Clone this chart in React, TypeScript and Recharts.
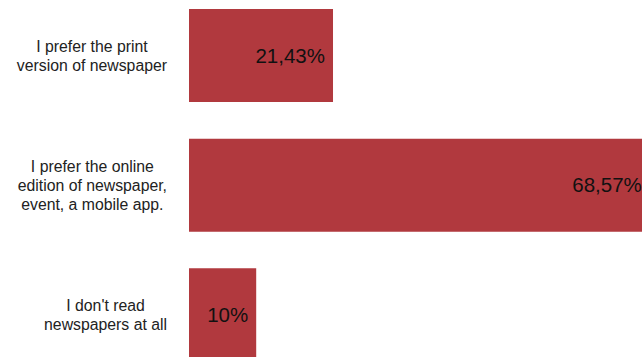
import { BarChart, Bar, XAxis, YAxis, LabelList } from "recharts";

const answers = [
  ["I prefer the print", "version of newspaper"],
  ["I prefer the online", "edition of newspaper,", "event, a mobile app."],
  ["I don't read", "newspapers at all"],
];
const shares = [21.43, 68.57, 10];

const data = answers.map((lines, i) => ({
  name: lines.join(" "),
  lines,
  value: shares[i],
}));

const FONT = "'Liberation Sans', Arial, Helvetica, sans-serif";

if (typeof document !== "undefined") document.body.style.margin = "0";

// measure text width so wrapped lines can be centred inside a right-aligned box
let ctx: CanvasRenderingContext2D | null = null;
const measure = (s: string) => {
  if (!ctx && typeof document !== "undefined") {
    ctx = document.createElement("canvas").getContext("2d");
    if (ctx) ctx.font = `15.8px ${FONT}`;
  }
  return ctx ? ctx.measureText(s).width : s.length * 7.8;
};

const CategoryTick = ({ y, index }: any) => {
  const lines = answers[index] || [];
  const maxW = Math.max(...lines.map(measure));
  const cx = 167 - maxW / 2;
  return (
    <text textAnchor="middle" fontSize={15.8} fontFamily={FONT} fill="#222">
      {lines.map((l, i) => (
        <tspan key={i} x={cx} y={y + (i - (lines.length - 1) / 2) * 19} dy="0.355em">
          {l}
        </tspan>
      ))}
    </text>
  );
};

const fmt = (v: any) => String(v).replace(".", ",") + "%";

export default function App() {
  return (
    <div style={{ marginTop: -9, width: 642, height: 366, overflow: "hidden" }}>
      <BarChart
        width={861}
        height={389}
        data={data}
        layout="vertical"
        margin={{ top: 0, right: 0, bottom: 0, left: 0 }}
      >
        <XAxis type="number" domain={[0, 100]} hide />
        <YAxis
          type="category"
          dataKey="name"
          width={189}
          axisLine={false}
          tickLine={false}
          tick={<CategoryTick />}
          interval={0}
        />
        <Bar dataKey="value" fill="#b1393e" barSize={93} isAnimationActive={false}>
          <LabelList
            dataKey="value"
            position="insideRight"
            offset={8}
            formatter={fmt}
            fill="#111"
            fontSize={20.5}
            fontFamily={FONT}
          />
        </Bar>
      </BarChart>
    </div>
  );
}
